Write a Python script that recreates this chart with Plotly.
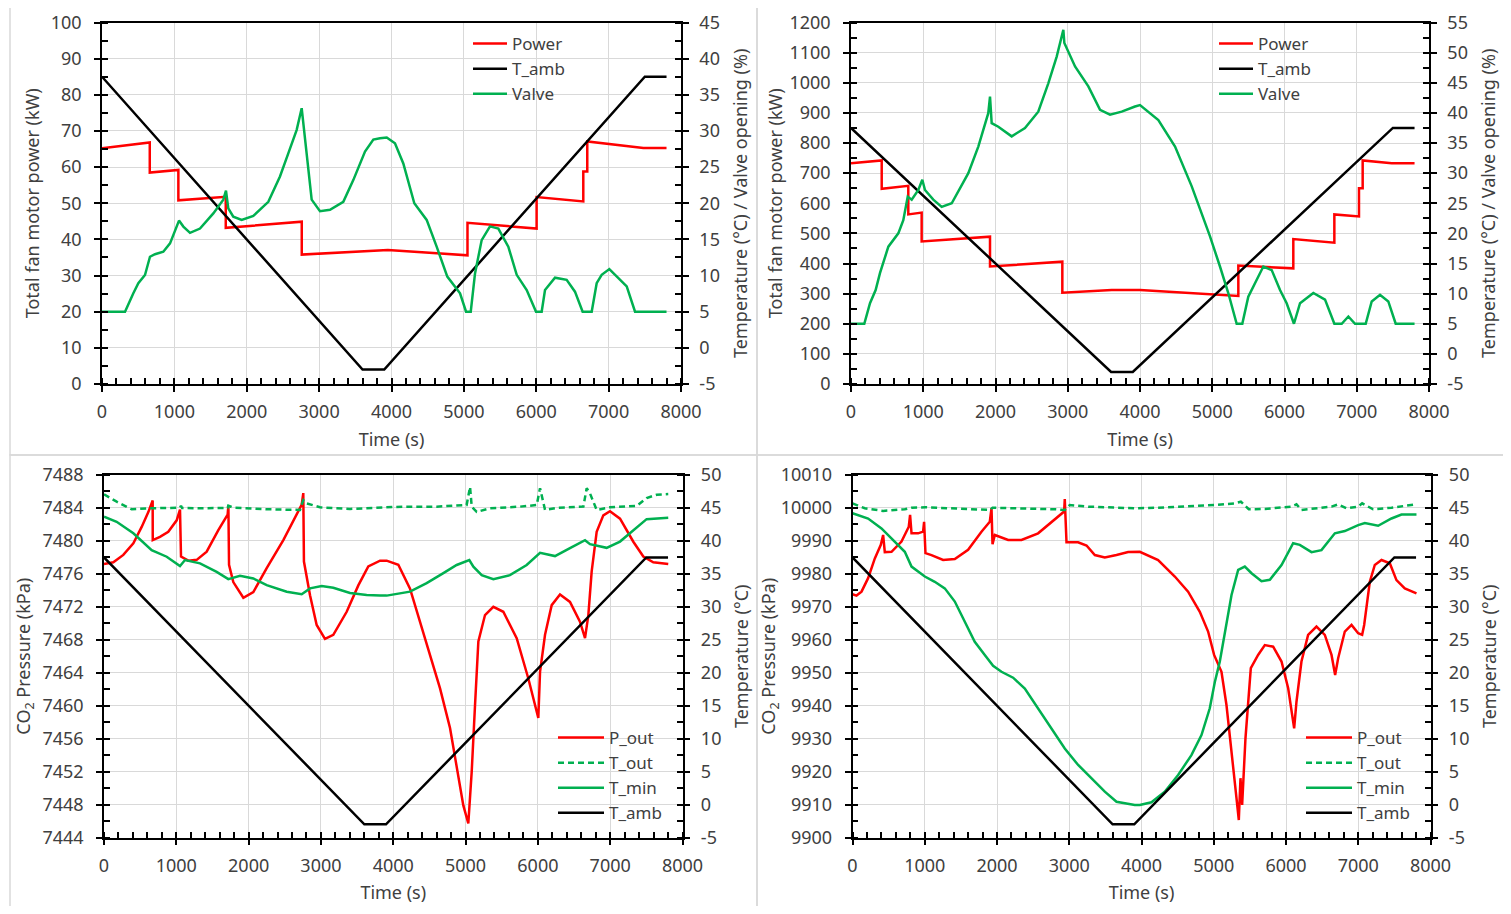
import plotly.graph_objects as go

SCREEN_W, SCREEN_H = 1511, 914
OFF = 8  # default page body margin
W, H = SCREEN_W - 2 * OFF, SCREEN_H - 2 * OFF
RED = "#FF0000"
GREEN = "#00B050"
BLACK = "#000000"
GRID = "#D9D9D9"
TXT = "#404040"
FONT = "Noto Sans"
FS = 18
LFS = 17

# ---------------- shared ambient temperature (°C) ----------------
t_amb_time = [0, 3600, 3900, 7500, 7800]
t_amb = [37.5, -3, -3, 37.5, 37.5]

# right-axis tick labels (hyphen minus as in the reference)
temp_ticks_45 = [-5, 0, 5, 10, 15, 20, 25, 30, 35, 40, 45]
temp_ticks_50 = [-5, 0, 5, 10, 15, 20, 25, 30, 35, 40, 45, 50]
temp_ticks_55 = [-5, 0, 5, 10, 15, 20, 25, 30, 35, 40, 45, 50, 55]

# ---------------- Panel 1 (top-left) ----------------
p1_power_time = [0, 660, 660, 1055, 1055, 1710, 1710, 2760, 2760, 3950, 5050, 5050,
                 6005, 6005, 6650, 6650, 6705, 6705, 7480, 7800]
p1_power = [65.2, 66.8, 58.5, 59.2, 50.8, 51.8, 43.2, 44.9, 35.8, 37.1, 35.6, 44.6,
            43.0, 51.7, 50.5, 58.8, 58.8, 67.1, 65.3, 65.3]
p1_valve_time = [0, 318, 433, 502, 594, 663, 732, 847, 940, 1064, 1124, 1216, 1354, 1538,
                 1676, 1713, 1745, 1814, 1930, 2091, 2298, 2459, 2574, 2690, 2759, 2805,
                 2897, 3012, 3150, 3334, 3472, 3634, 3749, 3841, 3934, 4048, 4163, 4315,
                 4486, 4624, 4771, 4947, 5030, 5095, 5154, 5246, 5361, 5476, 5614, 5730,
                 5868, 5997, 6075, 6121, 6259, 6420, 6535, 6641, 6766, 6835, 6904, 7010,
                 7112, 7250, 7365, 7800]
p1_valve = [5, 5, 7.55, 8.94, 10.08, 12.6, 12.95, 13.3, 14.45, 17.6, 16.77, 15.9, 16.5, 18.6,
            20.5, 21.75, 19.3, 18.15, 17.7, 18.25, 20.2, 23.7, 26.9, 30.15, 33.15, 28.8,
            20.5, 18.9, 19.1, 20.2, 23.2, 27.15, 28.8, 29.0, 29.1, 28.3, 25.5, 20.0,
            17.7, 14.0, 9.85, 7.55, 5, 5, 10.3, 14.9, 16.8, 16.5, 14.0, 10.1,
            8.0, 5, 5, 8.0, 9.7, 9.4, 7.77, 5, 5, 8.94, 10.1, 10.9,
            9.85, 8.5, 5, 5]

# ---------------- Panel 2 (top-right) ----------------
p2_power_time = [0, 425, 425, 793, 793, 978, 978, 1924, 1924, 2925, 2925, 3608, 4000,
                 5361, 5361, 6122, 6122, 6690, 6690, 7031, 7031, 7082, 7082, 7484, 7800]
p2_power = [733, 742, 648, 658, 563, 569, 473, 489, 390, 406, 303, 312, 312,
            292, 393, 384, 481, 469, 563, 556, 650, 650, 742, 733, 733]
p2_valve_time = [0, 184, 263, 341, 401, 447, 517, 655, 724, 785, 840, 932, 987, 1024, 1139,
                 1255, 1394, 1624, 1762, 1900, 1924, 1947, 2039, 2224, 2408, 2592, 2731,
                 2847, 2939, 2953, 3101, 3285, 3447, 3585, 3747, 3931, 4000, 4254, 4485,
                 4716, 4969, 5107, 5222, 5338, 5416, 5499, 5592, 5707, 5823, 5938, 6030,
                 6131, 6215, 6399, 6561, 6690, 6792, 6884, 6976, 7124, 7207, 7322, 7437,
                 7539, 7800]
p2_valve = [5, 5, 8.4, 10.6, 13.4, 15.0, 17.8, 20.0, 22.2, 26.1, 25.6, 27.2, 28.9, 27.2, 25.6,
            24.4, 25.0, 30.0, 34.4, 39.95, 42.7, 38.3, 37.7, 36.1, 37.5, 40.2, 44.9,
            49.35, 53.8, 51.6, 47.7, 44.4, 40.5, 39.7, 40.2, 41.05, 41.3, 38.8, 34.4,
            27.8, 19.5, 14.5, 10.1, 5, 5, 9.5, 11.7, 14.5, 13.9, 10.6, 8.4,
            5, 8.4, 10.1, 9.0, 5, 5, 6.2, 5, 5, 8.7, 9.8, 8.7,
            5, 5]

# ---------------- Panel 3 (bottom-left) ----------------
p3_pout_time = [0, 129, 267, 406, 521, 613, 673, 674, 774, 889, 1005, 1051, 1065, 1166, 1282,
                1420, 1581, 1710, 1720, 1729, 1788, 1927, 2065, 2250, 2480, 2618, 2734, 2756,
                2765, 2849, 2941, 3056, 3171, 3356, 3517, 3655, 3817, 3909, 4070, 4232, 4370,
                4508, 4647, 4785, 4886, 4969, 5038, 5085, 5131, 5177, 5269, 5384, 5522, 5707,
                5868, 6006, 6030, 6099, 6191, 6306, 6444, 6582, 6652, 6698, 6744, 6813, 6905,
                6997, 7136, 7320, 7458, 7596, 7803]
p3_pout = [7477.2, 7477.4, 7478.3, 7479.7, 7481.7, 7483.5, 7484.9, 7480.1, 7480.5, 7481.1,
           7482.5, 7483.8, 7478.1, 7477.6, 7477.7, 7478.7, 7481.3, 7483.2, 7484.3, 7477.1,
           7475.0, 7473.1, 7473.8, 7476.7, 7480.1, 7482.5, 7484.4, 7485.8, 7477.5, 7473.4,
           7469.8, 7468.1, 7468.6, 7471.4, 7474.6, 7476.9, 7477.6, 7477.6, 7477.1, 7474.2,
           7470.2, 7466.2, 7462.1, 7457.3, 7452.0, 7447.9, 7445.7, 7452.0, 7460.1, 7467.8,
           7471.0, 7472.0, 7471.4, 7468.2, 7463.3, 7458.5, 7464.1, 7468.6, 7472.2, 7473.5,
           7472.6, 7470.2, 7468.2, 7471.0, 7476.3, 7481.1, 7483.1, 7483.6, 7482.7, 7479.9,
           7478.1, 7477.4, 7477.2]
p3_tout_time = [0, 175, 383, 636, 1051, 1065, 1080, 1328, 1710, 1719, 1788, 2250, 2710, 2756,
                2800, 2987, 3402, 3817, 4139, 4600, 5015, 5062, 5085, 5154, 5338, 5753, 5984,
                6030, 6099, 6260, 6629, 6675, 6721, 6813, 6997, 7366, 7504, 7643, 7803]
p3_tout = [47.07, 45.95, 44.8, 44.95, 45.04, 45.34, 45.0, 44.95, 45.0, 45.34, 45.04, 44.8, 44.7,
           46.2, 45.7, 45.1, 44.85, 45.04, 45.2, 45.2, 45.45, 48.2, 45.2, 44.4, 44.95, 45.2,
           45.45, 48.0, 44.7, 45.0, 45.2, 48.0, 47.2, 44.7, 45.1, 45.3, 46.5, 47.0, 47.1]
p3_tmin_time = [0, 175, 406, 659, 867, 1051, 1120, 1328, 1558, 1719, 1881, 2065, 2250, 2527,
                2734, 2849, 3010, 3171, 3402, 3633, 3817, 3909, 4232, 4462, 4693, 4877, 5052,
                5108, 5223, 5384, 5614, 5845, 6030, 6237, 6444, 6652, 6721, 6951, 7136, 7320,
                7504, 7803]
p3_tmin = [43.67, 42.9, 41.15, 38.6, 37.6, 36.2, 37.1, 36.6, 35.3, 34.2, 34.7, 34.3, 33.3, 32.3,
           31.9, 32.8, 33.15, 32.9, 32.1, 31.8, 31.7, 31.7, 32.3, 33.6, 35.1, 36.35, 37.1,
           36.1, 34.8, 34.2, 34.8, 36.35, 38.2, 37.7, 38.9, 40.1, 39.5, 38.95, 39.9, 41.65,
           43.3, 43.5]

# ---------------- Panel 4 (bottom-right) ----------------
p4_pout_time = [0, 55, 125, 216, 309, 392, 424, 447, 540, 678, 779, 797, 817, 908, 977, 991,
                1010, 1093, 1254, 1416, 1600, 1785, 1900, 1924, 1938, 1970, 2154, 2339, 2569,
                2800, 2929, 2938, 2962, 3122, 3239, 3354, 3492, 3654, 3815, 3977, 4230, 4461,
                4645, 4807, 4922, 5005, 5107, 5176, 5246, 5315, 5347, 5370, 5393, 5439, 5513,
                5614, 5707, 5822, 5938, 6030, 6113, 6145, 6214, 6306, 6422, 6537, 6630, 6680,
                6722, 6814, 6907, 6999, 7054, 7082, 7160, 7229, 7322, 7437, 7529, 7644, 7806]
p4_pout = [9973.8, 9973.4, 9974.6, 9978.7, 9984.7, 9988.8, 9991.8, 9986.6, 9986.7, 9989.8,
           9994.3, 9997.9, 9992.3, 9992.3, 9992.8, 9995.8, 9986.3, 9985.7, 9984.2, 9984.5,
           9987.3, 9992.8, 9995.8, 9999.9, 9989.0, 9991.8, 9990.3, 9990.3, 9992.3, 9996.4,
           9998.9, 10002.7, 9989.6, 9989.6, 9988.6, 9985.7, 9985.0, 9985.7, 9986.6, 9986.7,
           9984.2, 9979.2, 9974.6, 9968.5, 9962.5, 9955.4, 9950.3, 9940.2, 9925.0, 9911.9,
           9905.3, 9918.0, 9909.9, 9930.1, 9951.4, 9955.4, 9958.4, 9957.9, 9953.4, 9945.3,
           9933.1, 9941.2, 9953.4, 9961.5, 9964.0, 9961.5, 9955.4, 9949.3, 9954.4, 9962.5,
           9964.5, 9962.0, 9961.5, 9964.5, 9977.6, 9982.7, 9984.2, 9983.2, 9978.1, 9975.6,
           9974.1]
p4_tout_time = [0, 170, 424, 724, 817, 1010, 1900, 1938, 2800, 2938, 3008, 3262, 3907, 4230,
                5015, 5292, 5375, 5485, 5707, 6076, 6145, 6214, 6630, 6722, 6837, 6999, 7054,
                7206, 7460, 7806]
p4_tout = [45.7, 44.95, 44.55, 44.8, 45.04, 45.1, 44.7, 45.04, 44.8, 44.7, 45.45, 45.2, 44.95,
           45.04, 45.45, 45.7, 45.95, 44.8, 44.85, 45.2, 45.55, 44.7, 45.2, 45.55, 44.95,
           45.2, 45.7, 44.8, 45.04, 45.55]
p4_tmin_time = [0, 216, 401, 586, 724, 817, 1001, 1139, 1277, 1416, 1554, 1692, 1831, 1946,
                2062, 2223, 2385, 2569, 2754, 2938, 3123, 3308, 3492, 3654, 3907, 3977, 4138,
                4322, 4507, 4691, 4830, 4945, 5015, 5084, 5153, 5246, 5338, 5430, 5523, 5661,
                5776, 5938, 6099, 6191, 6353, 6491, 6676, 6814, 6999, 7091, 7275, 7460, 7598,
                7806]
p4_tmin = [44.2, 43.4, 41.9, 39.9, 38.35, 36.1, 34.6, 33.8, 32.8, 30.8, 27.7, 24.7, 22.7, 21.05,
           20.15, 19.25, 17.6, 14.6, 11.55, 8.5, 6.0, 3.98, 1.95, 0.43, -0.07, -0.07, 0.34,
           1.95, 4.48, 7.5, 10.55, 14.6, 18.6, 21.7, 26.2, 31.8, 35.6, 36.1, 35.1, 33.9,
           34.1, 36.35, 39.65, 39.4, 38.3, 38.6, 41.15, 41.5, 42.4, 42.7, 42.3, 43.4, 44.0,
           44.0]

# ---------------- layout geometry (screen pixels -> paper) ----------------
def fx(p):
    return (p - OFF) / W

def fy(p):
    return 1 - (p - OFF) / H

def px_x(a, b):
    return [fx(a), fx(b)]

def px_y(top, bottom):
    return [fy(bottom), fy(top)]

dom = {
    1: (px_x(102, 681), px_y(22.5, 384)),
    2: (px_x(851, 1429), px_y(22.5, 384)),
    3: (px_x(104, 682.5), px_y(475, 837.5)),
    4: (px_x(852.5, 1430.5), px_y(475, 837.5)),
}

tickfont = dict(family=FONT, size=FS, color=TXT)
titlefont = dict(family=FONT, size=FS, color=TXT)

fig = go.Figure()

def line(color, dash="solid"):
    return dict(color=color, width=2.5, dash=dash)

# panel 1 traces
fig.add_trace(go.Scatter(x=p1_power_time, y=p1_power, mode="lines", name="Power",
                         line=line(RED), xaxis="x", yaxis="y", legend="legend"))
fig.add_trace(go.Scatter(x=t_amb_time, y=t_amb, mode="lines", name="T_amb",
                         line=line(BLACK), xaxis="x", yaxis="y2", legend="legend"))
fig.add_trace(go.Scatter(x=p1_valve_time, y=p1_valve, mode="lines", name="Valve",
                         line=line(GREEN), xaxis="x", yaxis="y2", legend="legend"))
# panel 2 traces
fig.add_trace(go.Scatter(x=p2_power_time, y=p2_power, mode="lines", name="Power",
                         line=line(RED), xaxis="x2", yaxis="y3", legend="legend2"))
fig.add_trace(go.Scatter(x=t_amb_time, y=t_amb, mode="lines", name="T_amb",
                         line=line(BLACK), xaxis="x2", yaxis="y4", legend="legend2"))
fig.add_trace(go.Scatter(x=p2_valve_time, y=p2_valve, mode="lines", name="Valve",
                         line=line(GREEN), xaxis="x2", yaxis="y4", legend="legend2"))
# panel 3 traces
fig.add_trace(go.Scatter(x=p3_pout_time, y=p3_pout, mode="lines", name="P_out",
                         line=line(RED), xaxis="x3", yaxis="y5", legend="legend3"))
fig.add_trace(go.Scatter(x=p3_tout_time, y=p3_tout, mode="lines", name="T_out",
                         line=line(GREEN, "6px,4px"), xaxis="x3", yaxis="y6", legend="legend3"))
fig.add_trace(go.Scatter(x=p3_tmin_time, y=p3_tmin, mode="lines", name="T_min",
                         line=line(GREEN), xaxis="x3", yaxis="y6", legend="legend3"))
fig.add_trace(go.Scatter(x=t_amb_time, y=t_amb, mode="lines", name="T_amb",
                         line=line(BLACK), xaxis="x3", yaxis="y6", legend="legend3"))
# panel 4 traces
fig.add_trace(go.Scatter(x=p4_pout_time, y=p4_pout, mode="lines", name="P_out",
                         line=line(RED), xaxis="x4", yaxis="y7", legend="legend4"))
fig.add_trace(go.Scatter(x=p4_tout_time, y=p4_tout, mode="lines", name="T_out",
                         line=line(GREEN, "6px,4px"), xaxis="x4", yaxis="y8", legend="legend4"))
fig.add_trace(go.Scatter(x=p4_tmin_time, y=p4_tmin, mode="lines", name="T_min",
                         line=line(GREEN), xaxis="x4", yaxis="y8", legend="legend4"))
fig.add_trace(go.Scatter(x=t_amb_time, y=t_amb, mode="lines", name="T_amb",
                         line=line(BLACK), xaxis="x4", yaxis="y8", legend="legend4"))


def xaxis(i):
    yname = "y" + ("" if i == 1 else str(2 * i - 1))
    return dict(domain=dom[i][0], anchor=yname, range=[0, 8000], tick0=0, dtick=1000,
                automargin=False,
                showgrid=True, gridcolor=GRID, gridwidth=1, zeroline=False,
                showline=True, linecolor=BLACK, linewidth=1.5, mirror=True,
                ticks="outside", ticklen=6, tickwidth=1.5, tickcolor=BLACK,
                tickfont=tickfont, tickformat="d", ticklabelstandoff=5,
                minor=dict(dtick=200, ticks="inside", ticklen=6, tickwidth=1.5,
                           tickcolor=BLACK, showgrid=False),
                title=dict(text="Time (s)", font=titlefont, standoff=11))


def yleft(i, rng, dt, title, standoff):
    xname = "x" + ("" if i == 1 else str(i))
    return dict(domain=dom[i][1], anchor=xname, range=rng, tick0=rng[0], dtick=dt,
                automargin=False,
                showgrid=True, gridcolor=GRID, gridwidth=1, zeroline=False,
                showline=True, linecolor=BLACK, linewidth=1.5,
                ticks="outside", ticklen=6, tickwidth=1.5, tickcolor=BLACK,
                tickfont=tickfont, tickformat="d", ticklabelstandoff=9,
                minor=dict(dtick=dt / 2, ticks="inside", ticklen=6, tickwidth=1.5,
                           tickcolor=BLACK, showgrid=False),
                title=dict(text=title, font=titlefont, standoff=standoff))


def yright(i, rng, ticks, title):
    xname = "x" + ("" if i == 1 else str(i))
    over = "y" + ("" if i == 1 else str(2 * i - 1))
    return dict(domain=dom[i][1], anchor=xname, overlaying=over, side="right",
                range=rng, tickmode="array", tickvals=ticks,
                ticktext=[str(v) for v in ticks],
                automargin=False,
                showgrid=False, zeroline=False,
                showline=True, linecolor=BLACK, linewidth=1.5,
                ticks="outside", ticklen=6, tickwidth=1.5, tickcolor=BLACK,
                tickfont=tickfont, ticklabelstandoff=7,
                minor=dict(tickmode="linear", tick0=-5, dtick=2.5, ticks="inside", ticklen=6,
                           tickwidth=1.5, tickcolor=BLACK, showgrid=False),
                title=dict(text=title, font=titlefont, standoff=15))


def legend(x0, ytop, iw):
    return dict(x=fx(x0), y=fy(ytop), xanchor="left", yanchor="top",
                xref="paper", yref="paper", bgcolor="rgba(0,0,0,0)",
                font=dict(family=FONT, size=LFS, color=TXT),
                tracegroupgap=0, itemwidth=iw)


def rect(x0, x1, top, bottom):
    return dict(type="rect", xref="paper", yref="paper", x0=fx(x0), x1=fx(x1),
                y0=fy(bottom), y1=fy(top), line=dict(color=GRID, width=1.5))


layout = dict(
    width=W, height=H,
    margin=dict(l=0, r=0, t=0, b=0, autoexpand=False),
    paper_bgcolor="white", plot_bgcolor="white",
    font=dict(family=FONT, size=FS, color=TXT),
    showlegend=True,
    xaxis=xaxis(1), xaxis2=xaxis(2), xaxis3=xaxis(3), xaxis4=xaxis(4),
    yaxis=yleft(1, [0, 100], 10, "Total fan motor power (kW)", 6),
    yaxis2=yright(1, [-5, 45], temp_ticks_45, "Temperature (°C) / Valve opening (%)"),
    yaxis3=yleft(2, [0, 1200], 100, "Total fan motor power (kW)", 2),
    yaxis4=yright(2, [-5, 55], temp_ticks_55, "Temperature (°C) / Valve opening (%)"),
    yaxis5=yleft(3, [7444, 7488], 4, "CO<sub>2</sub> Pressure (kPa)", 7),
    yaxis6=yright(3, [-5, 50], temp_ticks_50, "Temperature (°C)"),
    yaxis7=yleft(4, [9900, 10010], 10, "CO<sub>2</sub> Pressure (kPa)", 0),
    yaxis8=yright(4, [-5, 50], temp_ticks_50, "Temperature (°C)"),
    legend=legend(468, 26, 34),
    legend2=legend(1214, 26, 34),
    legend3=legend(553, 720, 46),
    legend4=legend(1301, 720, 46),
    shapes=[
        rect(10, 757, 3, 455),
        rect(757, 1505, 3, 455),
        rect(10, 757, 455, 908),
        rect(757, 1505, 455, 908),
    ],
)
fig.update_layout(**layout)
fig.write_html("out.html")
